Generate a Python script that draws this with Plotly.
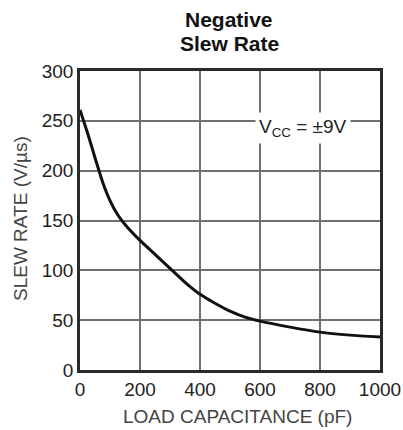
import plotly.graph_objects as go

# Negative slew rate vs load capacitance, VCC = ±9V
load_pf = [0, 25, 50, 75, 100, 125, 150, 200, 250, 300, 350, 400, 450,
           500, 550, 600, 700, 800, 900, 1000]
slew_rate = [261, 238, 213, 189, 170, 156, 146, 130, 116, 102, 88, 76, 67,
             59, 53, 49, 43, 38, 35, 33]

x_ticks = [0, 200, 400, 600, 800, 1000]
y_ticks = [0, 50, 100, 150, 200, 250, 300]

font_family = "Liberation Sans, Arial, sans-serif"

fig = go.Figure()
fig.add_trace(go.Scatter(
    x=load_pf, y=slew_rate, mode="lines",
    line=dict(color="#111111", width=3, shape="spline", smoothing=0.5),
    showlegend=False, hoverinfo="skip",
))

# Supply condition label
fig.add_annotation(
    x=742, y=243, xref="x", yref="y",
    text="V<sub>CC</sub> = ±9V", showarrow=False,
    font=dict(family=font_family, size=19, color="#222222"),
    bgcolor="white", borderpad=3,
)

# Two-line bold heading above the plot
for line, shift in (("Negative", 52), ("Slew Rate", 28)):
    fig.add_annotation(
        x=0.497, y=1, xref="paper", yref="paper",
        xanchor="center", yanchor="middle", yshift=shift,
        text=f"<b>{line}</b>", showarrow=False,
        font=dict(family=font_family, size=21, color="#111111"),
    )

# Axis titles
title_font = dict(family=font_family, size=19, color="#444444")
fig.add_annotation(
    x=0.525, y=0, xref="paper", yref="paper",
    xanchor="center", yanchor="middle", yshift=-46,
    text="LOAD CAPACITANCE (pF)", showarrow=False, font=title_font,
)
fig.add_annotation(
    x=0, y=0.505, xref="paper", yref="paper",
    xanchor="center", yanchor="middle", xshift=-60, textangle=-90,
    text="SLEW RATE (V/µs)", showarrow=False, font=title_font,
)

fig.update_layout(
    width=403, height=430,
    margin=dict(l=80, r=23, t=71, b=60),
    paper_bgcolor="white", plot_bgcolor="white",
    font=dict(family=font_family, color="#222222"),
)

fig.update_xaxes(
    range=[0, 1000], tickvals=x_ticks, ticktext=[str(v) for v in x_ticks],
    showgrid=True, gridcolor="#707070", gridwidth=1.5,
    showline=True, linecolor="#2a2a2a", linewidth=2.5, mirror=True,
    ticks="", zeroline=False, automargin=False,
    tickfont=dict(size=19, color="#222222"),
)
fig.update_yaxes(
    range=[0, 300], tickvals=y_ticks,
    showgrid=True, gridcolor="#707070", gridwidth=1.5,
    showline=True, linecolor="#2a2a2a", linewidth=2.5, mirror=True,
    ticks="", zeroline=False, automargin=False,
    tickfont=dict(size=19, color="#222222"),
)

fig.write_html("out.html")
